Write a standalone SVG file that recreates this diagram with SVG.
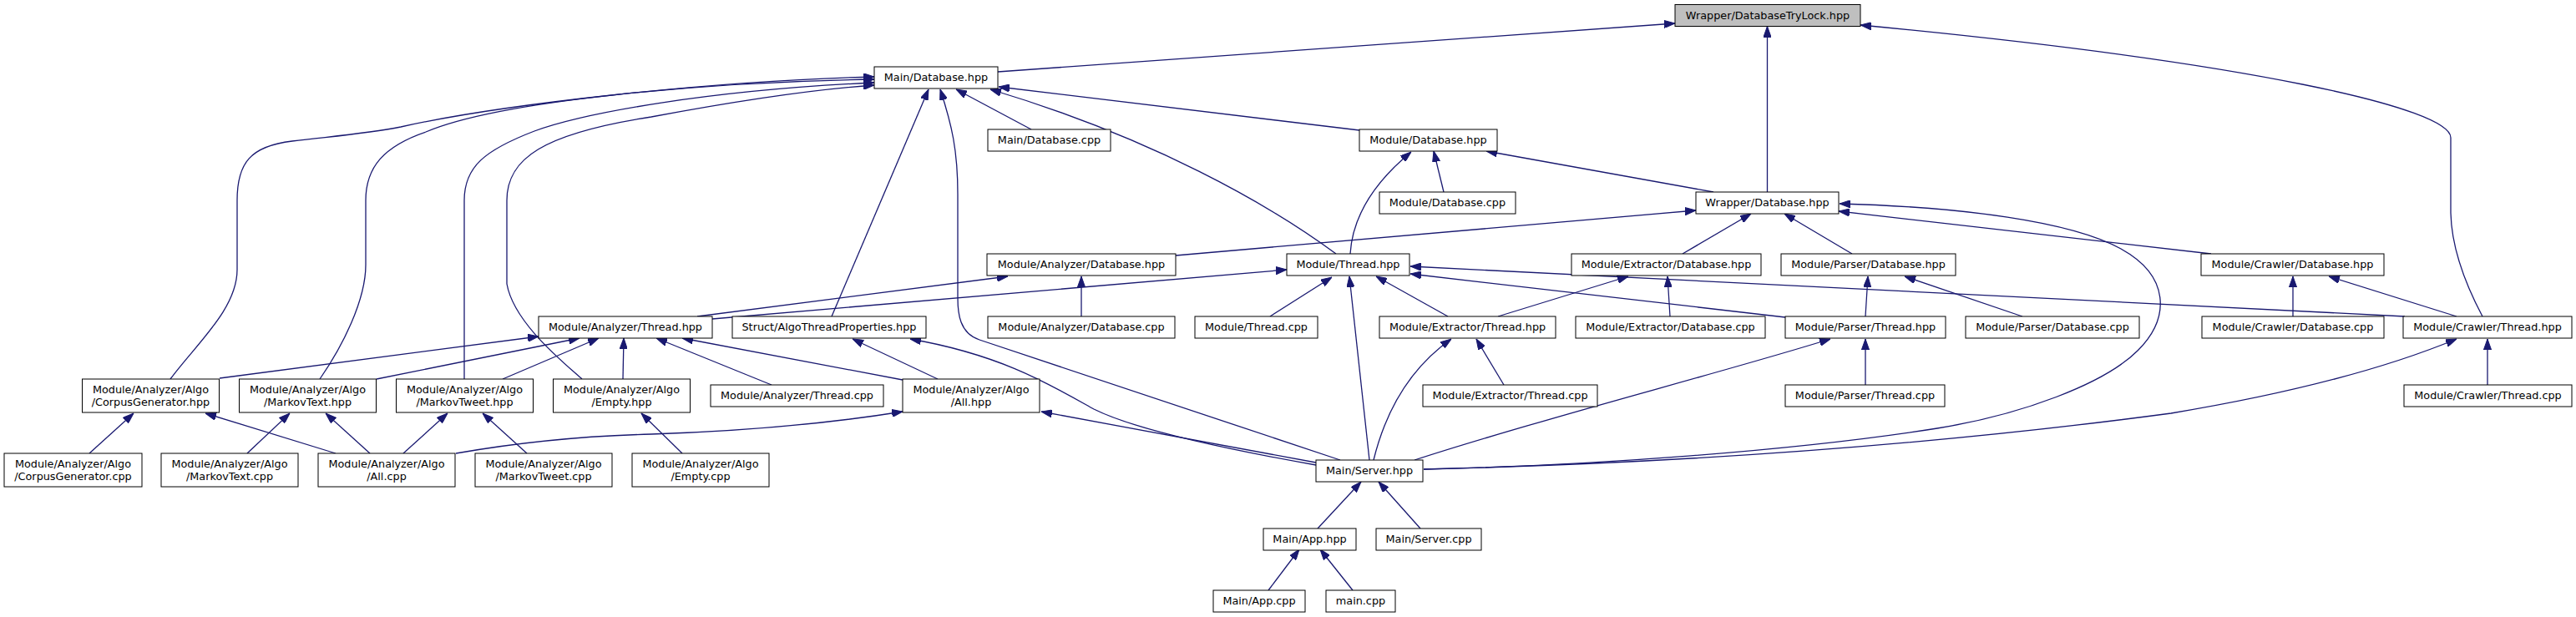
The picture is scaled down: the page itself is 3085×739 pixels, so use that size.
<svg xmlns="http://www.w3.org/2000/svg" width="3085" height="739" viewBox="0 0 3085 739">
<style>
.node rect{fill:#ffffff;stroke:#000000;stroke-width:1}
.root rect{fill:#bfbfbf}
text{font-family:"DejaVu Sans","Liberation Sans",sans-serif;font-size:12.8px;text-anchor:middle;fill:#000000}
.edges path{fill:none;stroke:#191970;stroke-width:1.3;marker-end:url(#ah)}
</style>
<defs>
<marker id="ah" markerWidth="13" markerHeight="9.2" refX="13" refY="4.6" orient="auto" markerUnits="userSpaceOnUse">
<path d="M0,0 L13,4.6 L0,9.2 Z" fill="#191970" stroke="#191970" stroke-width="1"/>
</marker>
</defs>
<rect width="3085" height="739" fill="#ffffff"/>
<g class="edges">
<path d="M1195,86 L2006,28"/>
<path d="M2116.5,230 L2116.5,31.5"/>
<path d="M2973,379 C2955,345 2936,300 2935,255 L2935,165 C2935,130 2700,75 2228,30"/>
<path d="M1605,551 L1173,407 C1149,399 1147,375 1147,357 L1147,233 C1147,180 1140,150 1126,107"/>
<path d="M996,379 L1112,107"/>
<path d="M1235,155 L1145,107"/>
<path d="M1628,156 L1196,104"/>
<path d="M1600,304 C1520,245 1380,165 1186,107"/>
<path d="M204,454 C235,412 284,370 284,323 L284,240 C284,195 300,175 350,169 C400,163 440,160 480,152 C600,125 850,97 1047,92"/>
<path d="M383,454 C410,415 438,360 438,317 L438,240 C438,200 460,175 510,158 C600,120 850,98 1047,95"/>
<path d="M556,454 L556,240 C556,200 580,180 640,157 C700,135 850,108 1047,99"/>
<path d="M697,454 C670,430 615,385 607,340 L607,240 C607,190 650,160 780,140 C860,125 960,108 1047,102"/>
<path d="M835,379 L1207,331"/>
<path d="M853,382 L1541,323"/>
<path d="M1295,379 L1295,331"/>
<path d="M1521,379 L1595,332"/>
<path d="M1640,551 L1616,331"/>
<path d="M1734,379 L1648,331"/>
<path d="M2880,379 L1689,319"/>
<path d="M2138,380 L1689,328"/>
<path d="M1617,304 C1620,255 1650,215 1690,182"/>
<path d="M1729,230 L1717,181"/>
<path d="M2052,230 L1780,181"/>
<path d="M1408,306 L2031,252"/>
<path d="M2015,304 L2097,256"/>
<path d="M2218,304 L2137,256"/>
<path d="M2648,304 L2202,253"/>
<path d="M1705,562 C1900,558 2150,540 2320,513 C2420,497 2520,460 2560,420 C2600,380 2598,330 2540,298 C2480,265 2350,248 2203,244"/>
<path d="M1705,562 C2000,555 2300,535 2600,495 C2750,470 2860,440 2942,406"/>
<path d="M1645,551 C1660,490 1690,440 1738,406"/>
<path d="M1694,551 C1850,500 2050,450 2192,406"/>
<path d="M1576,557 C1480,540 1360,515 1310,490 C1260,462 1200,425 1090,406"/>
<path d="M1576,554 L1247,493"/>
<path d="M1578,633 L1630,577"/>
<path d="M1701,633 L1651,577"/>
<path d="M1519,707 L1556,658"/>
<path d="M1620,707 L1581,658"/>
<path d="M1794,379 L1950,331"/>
<path d="M2000,379 L1997,331"/>
<path d="M1801,461 L1768,406"/>
<path d="M2234,379 L2237,331"/>
<path d="M2422,379 L2281,331"/>
<path d="M2234,461 L2234,406"/>
<path d="M2746,379 L2746,331"/>
<path d="M2942,379 L2789,331"/>
<path d="M2979,461 L2979,406"/>
<path d="M263,453 L645,403"/>
<path d="M451,454 L694,405"/>
<path d="M602,454 L717,405"/>
<path d="M746,454 L747,405"/>
<path d="M924,461 L786,405"/>
<path d="M1081,455 L817,405"/>
<path d="M1123,454 L1021,406"/>
<path d="M546,543 C620,530 700,522 780,520 C900,516 1000,506 1081,493"/>
<path d="M107,543 L160,495"/>
<path d="M402,543 L246,495"/>
<path d="M296,543 L347,495"/>
<path d="M443,543 L390,495"/>
<path d="M483,543 L536,495"/>
<path d="M631,543 L578,495"/>
<path d="M817,543 L768,495"/>
</g>
<g id="n1" class="node root"><rect x="2006" y="5.5" width="222" height="26"/><text x="2117" y="22.5">Wrapper/DatabaseTryLock.hpp</text></g>
<g id="n2" class="node"><rect x="1047" y="80" width="148" height="26"/><text x="1121" y="97">Main/Database.hpp</text></g>
<g id="n3" class="node"><rect x="1183" y="155" width="147" height="26"/><text x="1256.5" y="172">Main/Database.cpp</text></g>
<g id="n4" class="node"><rect x="1628" y="155" width="165" height="26"/><text x="1710.5" y="172">Module/Database.hpp</text></g>
<g id="n5" class="node"><rect x="1652" y="230" width="163" height="26"/><text x="1733.5" y="247">Module/Database.cpp</text></g>
<g id="n6" class="node"><rect x="2031" y="230" width="171" height="26"/><text x="2116.5" y="247">Wrapper/Database.hpp</text></g>
<g id="n7" class="node"><rect x="1182" y="304" width="226" height="26"/><text x="1295" y="321">Module/Analyzer/Database.hpp</text></g>
<g id="n8" class="node"><rect x="1541" y="304" width="147" height="26"/><text x="1614.5" y="321">Module/Thread.hpp</text></g>
<g id="n9" class="node"><rect x="1882" y="304" width="227" height="26"/><text x="1995.5" y="321">Module/Extractor/Database.hpp</text></g>
<g id="n10" class="node"><rect x="2133" y="304" width="209" height="26"/><text x="2237.5" y="321">Module/Parser/Database.hpp</text></g>
<g id="n11" class="node"><rect x="2636" y="304" width="219" height="26"/><text x="2745.5" y="321">Module/Crawler/Database.hpp</text></g>
<g id="n12" class="node"><rect x="645" y="379" width="208" height="26"/><text x="749" y="396">Module/Analyzer/Thread.hpp</text></g>
<g id="n13" class="node"><rect x="877" y="379" width="232" height="26"/><text x="993" y="396">Struct/AlgoThreadProperties.hpp</text></g>
<g id="n14" class="node"><rect x="1183" y="379" width="224" height="26"/><text x="1295" y="396">Module/Analyzer/Database.cpp</text></g>
<g id="n15" class="node"><rect x="1431" y="379" width="147" height="26"/><text x="1504.5" y="396">Module/Thread.cpp</text></g>
<g id="n16" class="node"><rect x="1652" y="379" width="211" height="26"/><text x="1757.5" y="396">Module/Extractor/Thread.hpp</text></g>
<g id="n17" class="node"><rect x="1887" y="379" width="227" height="26"/><text x="2000.5" y="396">Module/Extractor/Database.cpp</text></g>
<g id="n18" class="node"><rect x="2138" y="379" width="192" height="26"/><text x="2234" y="396">Module/Parser/Thread.hpp</text></g>
<g id="n19" class="node"><rect x="2354" y="379" width="208" height="26"/><text x="2458" y="396">Module/Parser/Database.cpp</text></g>
<g id="n20" class="node"><rect x="2637" y="379" width="218" height="26"/><text x="2746" y="396">Module/Crawler/Database.cpp</text></g>
<g id="n21" class="node"><rect x="2878" y="379" width="202" height="26"/><text x="2979" y="396">Module/Crawler/Thread.hpp</text></g>
<g id="n22" class="node"><rect x="98.5" y="454" width="164" height="40"/><text x="180.5" y="471">Module/Analyzer/Algo</text><text x="180.5" y="486">/CorpusGenerator.hpp</text></g>
<g id="n23" class="node"><rect x="286.5" y="454" width="164" height="40"/><text x="368.5" y="471">Module/Analyzer/Algo</text><text x="368.5" y="486">/MarkovText.hpp</text></g>
<g id="n24" class="node"><rect x="474.5" y="454" width="164" height="40"/><text x="556.5" y="471">Module/Analyzer/Algo</text><text x="556.5" y="486">/MarkovTweet.hpp</text></g>
<g id="n25" class="node"><rect x="662.5" y="454" width="164" height="40"/><text x="744.5" y="471">Module/Analyzer/Algo</text><text x="744.5" y="486">/Empty.hpp</text></g>
<g id="n26" class="node"><rect x="851" y="461" width="207" height="26"/><text x="954.5" y="478">Module/Analyzer/Thread.cpp</text></g>
<g id="n27" class="node"><rect x="1081" y="454" width="164" height="40"/><text x="1163" y="471">Module/Analyzer/Algo</text><text x="1163" y="486">/All.hpp</text></g>
<g id="n28" class="node"><rect x="1704" y="461" width="209" height="26"/><text x="1808.5" y="478">Module/Extractor/Thread.cpp</text></g>
<g id="n29" class="node"><rect x="2138" y="461" width="191" height="26"/><text x="2233.5" y="478">Module/Parser/Thread.cpp</text></g>
<g id="n30" class="node"><rect x="2879" y="461" width="201" height="26"/><text x="2979.5" y="478">Module/Crawler/Thread.cpp</text></g>
<g id="n31" class="node"><rect x="5" y="543" width="165" height="40"/><text x="87.5" y="560">Module/Analyzer/Algo</text><text x="87.5" y="575">/CorpusGenerator.cpp</text></g>
<g id="n32" class="node"><rect x="193" y="543" width="164" height="40"/><text x="275" y="560">Module/Analyzer/Algo</text><text x="275" y="575">/MarkovText.cpp</text></g>
<g id="n33" class="node"><rect x="381" y="543" width="164" height="40"/><text x="463" y="560">Module/Analyzer/Algo</text><text x="463" y="575">/All.cpp</text></g>
<g id="n34" class="node"><rect x="569" y="543" width="164" height="40"/><text x="651" y="560">Module/Analyzer/Algo</text><text x="651" y="575">/MarkovTweet.cpp</text></g>
<g id="n35" class="node"><rect x="757" y="543" width="164" height="40"/><text x="839" y="560">Module/Analyzer/Algo</text><text x="839" y="575">/Empty.cpp</text></g>
<g id="n36" class="node"><rect x="1576" y="551" width="128" height="26"/><text x="1640" y="568">Main/Server.hpp</text></g>
<g id="n37" class="node"><rect x="1513" y="633" width="111" height="26"/><text x="1568.5" y="650">Main/App.hpp</text></g>
<g id="n38" class="node"><rect x="1648" y="633" width="126" height="26"/><text x="1711" y="650">Main/Server.cpp</text></g>
<g id="n39" class="node"><rect x="1453" y="707" width="110" height="26"/><text x="1508" y="724">Main/App.cpp</text></g>
<g id="n40" class="node"><rect x="1588" y="707" width="83" height="26"/><text x="1629.5" y="724">main.cpp</text></g>
</svg>
